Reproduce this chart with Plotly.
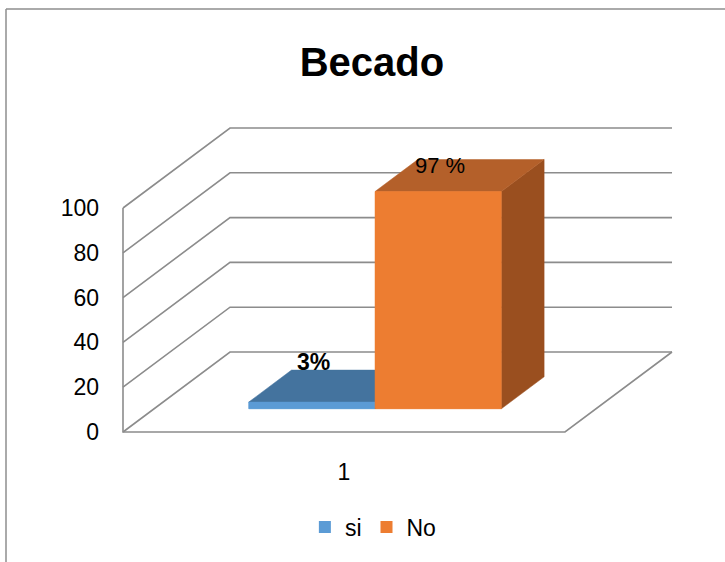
import plotly.graph_objects as go

# datos del gráfico
titulo = "Becado"
categorias = ["1"]
series = ["si", "No"]
valores = [3, 97]
etiquetas = ["3%", "97 %"]
ticks_y = [0, 20, 40, 60, 80, 100]

# colores: frente, arriba, lado
colores = {
    "si": ("#5B9BD5", "#44739E", "#3A6288"),
    "No": ("#ED7D31", "#B4602A", "#9A4F1F"),
}

# proyección oblicua tipo Excel 3D (px por unidad)
PXX, PXY = 442, 2.24
DX, DY = 107 / PXX, 80 / PXY
Z1, Z2 = 0.29, 0.69          # profundidad de las barras
GAP = 1.5                    # ancho de separación 150 %
w = 1 / (len(series) + GAP)

W, H = 725, 562
L, R, T, B = 110, 20, 100, 112
X0PX, Y0PX = 123, 432        # dónde cae (0.5, 0) en píxeles


def p(x, y, z):
    return x + z * DX, y + z * DY


def poly(pts, color, fill=True):
    xs, ys = zip(*pts)
    if fill:
        xs, ys = xs + (xs[0],), ys + (ys[0],)
        return go.Scatter(x=xs, y=ys, mode="lines", fill="toself", fillcolor=color,
                          line=dict(color=color, width=0.5), hoverinfo="skip", showlegend=False)
    return go.Scatter(x=xs, y=ys, mode="lines", line=dict(color=color, width=1.6),
                      hoverinfo="skip", showlegend=False)


fig = go.Figure()

gris = "#8C8C8C"
# paredes: pared lateral y fondo
for t in ticks_y:
    fig.add_trace(poly([p(0.5, t, 0), p(0.5, t, 1), p(1.5, t, 1)], gris, fill=False))
# arista frontal, suelo frontal y lateral derecho
fig.add_trace(poly([p(0.5, ticks_y[-1], 0), p(0.5, 0, 0), p(1.5, 0, 0), p(1.5, 0, 1)], gris, fill=False))

# barras
caras = []
for i, (s, v) in enumerate(zip(series, valores)):
    x0 = 1 - len(series) * w / 2 + i * w
    x1 = x0 + w
    cf, ct, cs = colores[s]
    # barra real (leyenda y cara frontal)
    fig.add_trace(go.Bar(x=[(x0 + x1) / 2 + Z1 * DX], y=[v], base=[Z1 * DY], width=[w],
                         marker=dict(color=cf, line=dict(width=0)), name=s, hoverinfo="skip"))
    caras += [
        poly([p(x1, 0, Z1), p(x1, 0, Z2), p(x1, v, Z2), p(x1, v, Z1)], cs),
        poly([p(x0, v, Z1), p(x1, v, Z1), p(x1, v, Z2), p(x0, v, Z2)], ct),
        poly([p(x0, 0, Z1), p(x1, 0, Z1), p(x1, v, Z1), p(x0, v, Z1)], cf),
    ]
for c in caras:
    fig.add_trace(c)

# etiquetas de datos
estilo = [dict(size=23, bold=True, dx=-20, dy=24), dict(size=22, bold=False, dx=-20, dy=10)]
for i, (v, e) in enumerate(zip(valores, etiquetas)):
    x0 = 1 - len(series) * w / 2 + i * w
    zc = (Z1 + Z2) / 2
    xa, ya = p(x0 + w / 2, v, zc)
    st = estilo[i]
    fig.add_annotation(x=xa, y=ya, text=f"<b>{e}</b>" if st["bold"] else e, showarrow=False,
                       xshift=st["dx"], yshift=st["dy"], font=dict(size=st["size"], color="black"))

# marco del gráfico
def px2paper(x, y):
    return (x - L) / (W - L - R), (H - B - y) / (H - T - B)

fx0, fy0 = px2paper(6, 9)
fx1, fy1 = px2paper(W + 5, H + 5)
fig.add_shape(type="line", xref="paper", yref="paper", x0=fx0, y0=fy0, x1=fx1, y1=fy0,
              line=dict(color="#8E8E8E", width=1.5))
fig.add_shape(type="line", xref="paper", yref="paper", x0=fx0, y0=fy0, x1=fx0, y1=fy1,
              line=dict(color="#8E8E8E", width=1.5))

xr = [0.5 - (X0PX - L) / PXX, 0.5 + (W - R - X0PX) / PXX]
yr = [(Y0PX - (H - B)) / PXY, (Y0PX - T) / PXY]

fig.update_layout(
    width=W, height=H,
    margin=dict(l=L, r=R, t=T, b=B),
    paper_bgcolor="white", plot_bgcolor="white",
    font=dict(family="Liberation Sans, Arial, sans-serif", size=22, color="black"),
    title=dict(text=f"<b>{titulo}</b>", x=0.513, xanchor="center", y=1 - 62 / H, yanchor="middle",
               font=dict(size=40)),
    xaxis=dict(range=xr, tickvals=[1], ticktext=categorias, showgrid=False, zeroline=False,
               showline=False, ticks="", ticklabelstandoff=6, fixedrange=True,
               tickfont=dict(size=23)),
    yaxis=dict(range=yr, tickvals=ticks_y, showgrid=False, zeroline=False, showline=False,
               ticks="", ticklabelstandoff=10, fixedrange=True, tickfont=dict(size=23)),
    barmode="overlay",
    showlegend=True,
    legend=dict(orientation="h", xref="container", yref="container", x=0.515, xanchor="center",
                y=35 / H, yanchor="middle", font=dict(size=23)),
    hovermode=False,
)

fig.write_html("out.html", config={"displayModeBar": False},
               post_script="document.body.style.margin='0';")
